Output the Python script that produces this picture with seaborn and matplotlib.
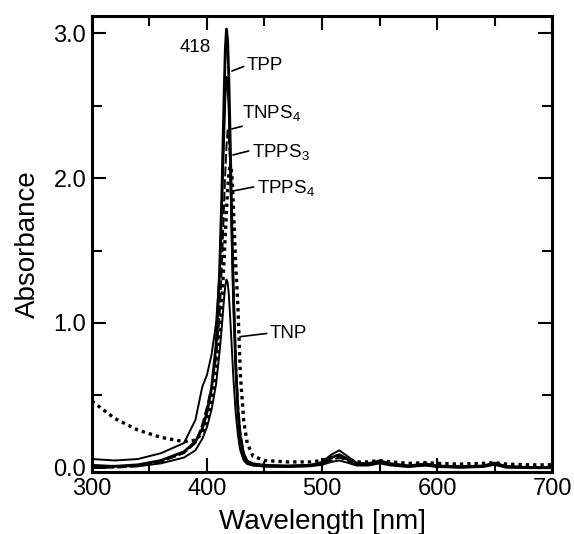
import pandas as pd
import seaborn as sns
import matplotlib.pyplot as plt

# Wavelength grid [nm] shared by all spectra
wl = [300, 320, 340, 360, 380, 390, 396, 400, 404, 408, 411, 413, 415, 416, 417,
      418, 419, 420, 421, 422, 423, 425, 427, 429, 432, 435, 440, 450, 470, 490,
      500, 508, 515, 522, 530, 540, 550, 560, 575, 590, 600, 620, 640, 650, 660,
      680, 700]

# Absorbance
tpp = [0.01, 0.01, 0.02, 0.05, 0.11, 0.18, 0.27, 0.38, 0.55, 0.85, 1.35, 1.9, 2.6, 2.9, 3.03,
       2.95, 2.7, 2.35, 1.95, 1.55, 1.2, 0.7, 0.38, 0.2, 0.08, 0.04, 0.02, 0.01, 0.01, 0.015,
       0.03, 0.07, 0.09, 0.06, 0.025, 0.025, 0.04, 0.025, 0.01, 0.02, 0.01, 0.005, 0.01, 0.03, 0.008,
       0.0, 0.0]
tnps4 = [0.06, 0.05, 0.06, 0.10, 0.17, 0.33, 0.56, 0.64, 0.78, 1.0, 1.35, 1.8, 2.3, 2.55, 2.7,
         2.65, 2.45, 2.15, 1.8, 1.45, 1.15, 0.7, 0.4, 0.22, 0.1, 0.05, 0.03, 0.02, 0.015, 0.02,
         0.04, 0.09, 0.12, 0.08, 0.035, 0.03, 0.05, 0.03, 0.015, 0.03, 0.015, 0.01, 0.015, 0.035, 0.01,
         0.005, 0.005]
tpps3 = [0.0, 0.0, 0.01, 0.04, 0.10, 0.17, 0.30, 0.42, 0.56, 0.76, 1.05, 1.4, 1.85, 2.05, 2.22,
         2.33, 2.3, 2.12, 1.85, 1.55, 1.25, 0.78, 0.45, 0.25, 0.1, 0.05, 0.025, 0.015, 0.01, 0.015,
         0.03, 0.05, 0.07, 0.05, 0.02, 0.02, 0.035, 0.02, 0.01, 0.02, 0.01, 0.005, 0.01, 0.025, 0.005,
         0.0, 0.0]
tpps4 = [0.46, 0.34, 0.26, 0.21, 0.18, 0.19, 0.24, 0.32, 0.45, 0.65, 0.9, 1.15, 1.45, 1.62, 1.78,
         1.92, 2.02, 2.08, 2.08, 1.98, 1.8, 1.4, 1.1, 0.65, 0.32, 0.17, 0.08, 0.05, 0.04, 0.04,
         0.05, 0.07, 0.08, 0.06, 0.04, 0.04, 0.05, 0.04, 0.03, 0.035, 0.03, 0.025, 0.03, 0.035, 0.025,
         0.02, 0.02]
tnp = [0.02, 0.01, 0.01, 0.03, 0.07, 0.12, 0.2, 0.28, 0.4, 0.58, 0.8, 0.98, 1.18, 1.26, 1.3,
       1.28, 1.2, 1.07, 0.92, 0.77, 0.62, 0.38, 0.22, 0.12, 0.05, 0.025, 0.015, 0.01, 0.005, 0.01,
       0.02, 0.04, 0.05, 0.035, 0.015, 0.015, 0.03, 0.015, 0.005, 0.015, 0.005, 0.0, 0.005, 0.02, 0.0,
       0.0, 0.0]

sns.set_style("ticks")
plt.rcParams["font.family"] = ["Liberation Sans", "DejaVu Sans"]
plt.rcParams["mathtext.default"] = "regular"
plt.rcParams["text.color"] = "black"
plt.rcParams["axes.labelcolor"] = "black"

fig = plt.figure(figsize=(5.74, 5.34), dpi=100)
ax = fig.add_axes([0.160, 0.116, 0.802, 0.854])

# series: (values, linestyle, linewidth)
series = [
    (tnps4, "-", 1.4),
    (tpps3, (0, (5, 1.5)), 1.4),
    (tnp, "-", 1.4),
    (tpps4, (0, (1, 1.2)), 2.4),
    (tpp, "-", 2.0),
]
for vals, ls, lw in series:
    sns.lineplot(x=wl, y=vals, ax=ax, color="black", linestyle=ls, linewidth=lw)

ax.set_xlim(300, 700)
ax.set_ylim(-0.03, 3.12)
ax.set_xticks([300, 400, 500, 600, 700])
ax.set_yticks([0.0, 1.0, 2.0, 3.0])
ax.set_yticklabels(["0.0", "1.0", "2.0", "3.0"])
ax.xaxis.set_minor_locator(plt.MultipleLocator(50))
ax.yaxis.set_minor_locator(plt.MultipleLocator(0.5))
ax.tick_params(which="both", direction="in", top=True, right=True, width=1.5,
               labelsize=17, colors="black")
ax.tick_params(which="major", length=10, pad=4)
ax.tick_params(which="minor", length=7)
for sp in ax.spines.values():
    sp.set_linewidth(2.2)
    sp.set_color("black")

ax.set_xlabel("Wavelength [nm]", fontsize=20, labelpad=7)
ax.set_ylabel("Absorbance", fontsize=20, labelpad=9)

# peak annotations
lab_fs = 13.5
line = dict(arrowstyle="-", color="black", lw=1.2, shrinkA=0, shrinkB=0)
ax.text(389.6, 2.90, "418", fontsize=lab_fs, ha="center", va="center")
ax.annotate("TPP", xy=(421.7, 2.74), xytext=(434.8, 2.78), fontsize=lab_fs,
            va="center", arrowprops=dict(line, relpos=(0, 0.5)))
ax.annotate("TNPS$_4$", xy=(421.7, 2.34), xytext=(430.4, 2.45), fontsize=lab_fs,
            va="center", arrowprops=dict(line, relpos=(0.35, 0.1)))
ax.annotate("TPPS$_3$", xy=(422.6, 2.16), xytext=(439.1, 2.18), fontsize=lab_fs,
            va="center", arrowprops=dict(line, relpos=(0, 0.6)))
ax.annotate("TPPS$_4$", xy=(421.7, 1.91), xytext=(443.5, 1.93), fontsize=lab_fs,
            va="center", arrowprops=dict(line, relpos=(0, 0.6)))
ax.annotate("TNP", xy=(428.7, 0.905), xytext=(454.8, 0.93), fontsize=lab_fs,
            va="center", arrowprops=dict(line, relpos=(0, 0.5)))

fig.savefig("out.png", dpi=100)
